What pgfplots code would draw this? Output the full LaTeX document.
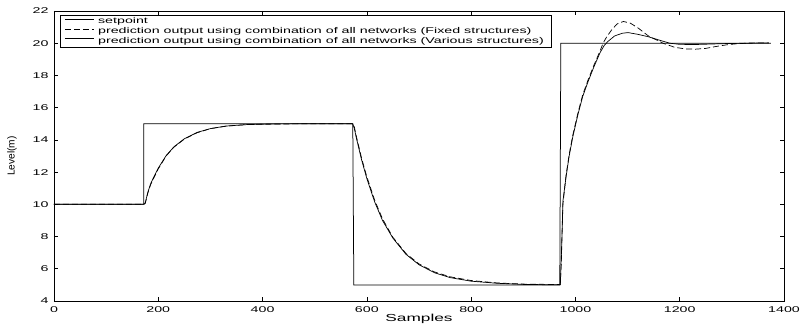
\documentclass[border=0pt]{standalone}
\usepackage{fontspec}
\setmainfont{Liberation Sans}
\newfontfamily\wide[FakeStretch=1.7]{Liberation Sans}
\usepackage{graphicx}
\usepackage{pgfplots}
\pgfplotsset{compat=1.18}
\begin{document}
\begin{tikzpicture}
\path[use as bounding box] (-54bp,-24bp) rectangle (747bp,301bp);
\begin{axis}[
  at={(0,0)}, anchor=south west,
  scale only axis, width=730bp, height=290bp,
  xmin=0, xmax=1400, ymin=4, ymax=22,
  xtick={0,200,...,1400}, ytick={4,6,...,22},
  tick align=inside, major tick length=4bp,
  axis line style={line width=0.8bp},
  every tick/.style={line width=0.6bp, black},
  /pgf/number format/assume math mode=true,
  /pgf/number format/1000 sep={},
  ticklabel style={font=\wide\fontsize{8.4}{10}\selectfont},
  xticklabel style={yshift=-2bp},
  yticklabel style={xshift=-2bp},
  xlabel={Samples},
  xlabel style={font=\wide\fontsize{10.2}{12}\selectfont, anchor=base, at={(axis description cs:0.5,0)}, yshift=-20bp},
  ylabel={Level(m)},
  ylabel style={font=\fontsize{10.2}{12}\selectfont, anchor=center, at={(axis description cs:-0.0575,0.5)}},
  legend image code/.code={\draw[#1] (0bp,2.6bp) -- (29bp,2.6bp);},
  legend style={at={(rel axis cs:0.0082,0.986)}, anchor=north west, draw=black, line width=0.8bp,
    inner xsep=4bp, inner ysep=1.3bp, row sep=0pt,
    font=\wide\fontsize{8.4}{10}\selectfont,
    nodes={inner xsep=4bp, inner ysep=0.9bp, text height=6.1bp, text depth=1.9bp}},
  legend cell align=left,
]
\addplot[black, line width=0.75bp] coordinates {(0,10) (172,10) (172,15) (573,15) (575,5) (970,5) (972,20) (1375,20)};
\addlegendentry{setpoint}
\addplot[black, line width=0.7bp, dash pattern=on 6bp off 3bp] coordinates {
(0,10) (172,10) (175,10.05) (180,10.7) (185,11.2) (190,11.55) (200,12.2) (215,13.0) (230,13.55) (250,14.05) (275,14.45) (300,14.7) (330,14.85) (370,14.95) (420,14.98) (480,15.0) (573,15.0)
(576,14.8) (580,14.2) (590,12.85) (600,11.7) (615,10.25) (630,9.1) (650,7.95) (675,6.95) (700,6.3) (730,5.8) (760,5.5) (800,5.27) (850,5.12) (900,5.05) (971,5.02)
(973,6.5) (976,10.0) (982,11.8) (988,13.1) (995,14.3) (1005,15.7) (1014,16.8) (1024,17.7) (1035,18.6) (1047,19.5) (1053,20.0) (1060,20.4) (1070,20.85) (1080,21.2) (1092,21.35) (1105,21.25) (1120,20.95) (1140,20.45) (1168,20.0) (1190,19.75) (1210,19.65) (1230,19.63) (1250,19.68) (1270,19.8) (1290,19.9) (1310,19.97) (1340,20.02) (1371,20.02)};
\addlegendentry{prediction output using combination of all networks (Fixed structures)}
\addplot[black, line width=0.7bp] coordinates {
(0,10) (172,10) (175,10.1) (180,10.75) (185,11.25) (190,11.6) (200,12.25) (215,13.02) (230,13.57) (250,14.07) (275,14.47) (300,14.7) (330,14.86) (370,14.95) (420,14.99) (480,15.0) (573,15.0)
(576,14.7) (580,14.1) (590,12.75) (600,11.6) (615,10.15) (630,9.0) (650,7.9) (675,6.9) (700,6.25) (730,5.75) (760,5.45) (800,5.23) (850,5.1) (900,5.03) (971,5.0)
(973,6.8) (976,10.2) (982,11.7) (988,13.0) (995,14.2) (1005,15.6) (1014,16.7) (1024,17.6) (1035,18.5) (1047,19.4) (1055,19.85) (1062,20.1) (1075,20.45) (1090,20.62) (1101,20.66) (1120,20.55) (1140,20.4) (1160,20.2) (1181,20.0) (1200,19.93) (1230,19.92) (1260,19.95) (1290,19.98) (1330,20.0) (1371,20.02)};
\addlegendentry{prediction output using combination of all networks (Various structures)}
\end{axis}
\end{tikzpicture}
\end{document}
